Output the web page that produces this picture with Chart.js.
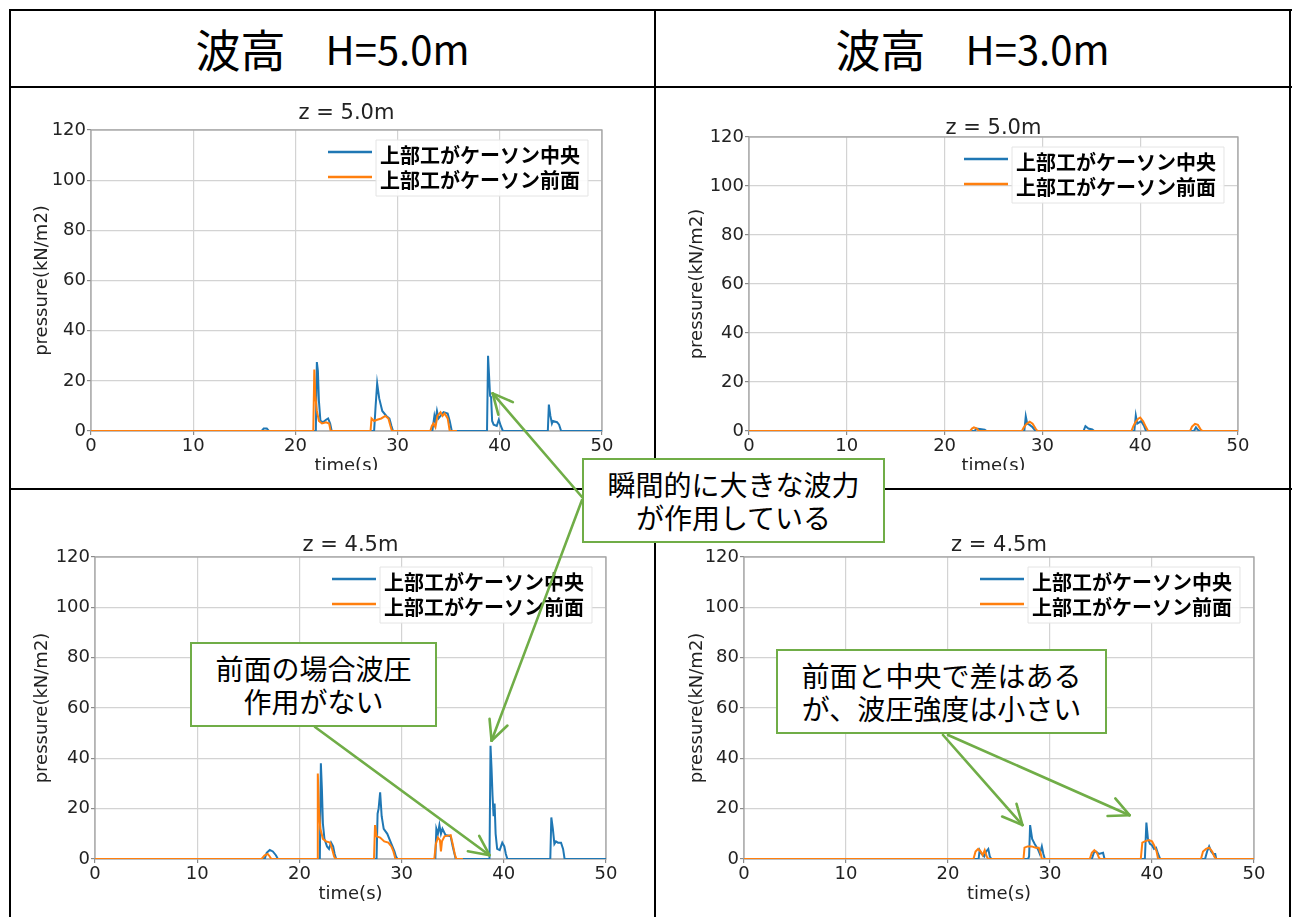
<!DOCTYPE html>
<html lang="ja">
<head>
<meta charset="utf-8">
<title>上部工位置による波圧の比較</title>
<script src="https://cdn.jsdelivr.net/npm/chart.js@4.4.1/dist/chart.umd.min.js"></script>
<style>
  html, body { margin: 0; padding: 0; background: #fff; }
  #sheet {
    position: relative; width: 1292px; height: 917px; overflow: hidden; background: #fff;
    font-family: "Noto Sans CJK JP", "Noto Sans", sans-serif; color: #000;
  }
  .rule { position: absolute; background: #000; }
  .head {
    position: absolute; top: 10px; height: 76px; display: flex; align-items: center;
    justify-content: center; font-size: 40px; white-space: nowrap;
  }
  .head .kanji { font-size: 45px; }
  .panel { position: absolute; overflow: hidden; z-index: 1; }
  .panel canvas { display: block; }
  #arrows { position: absolute; left: 0; top: 0; z-index: 2; pointer-events: none; }
  .note {
    position: absolute; box-sizing: border-box; border: 2.5px solid #70ad47; background: #fff;
    display: flex; flex-direction: column; justify-content: center; align-items: center;
    font-size: 28px; line-height: 33px; white-space: nowrap; z-index: 3;
  }
</style>
</head>
<body>
<div id="sheet">
  <div class="rule" style="left:9px;top:9px;width:1283px;height:2px"></div>
  <div class="rule" style="left:9px;top:86px;width:1283px;height:2px"></div>
  <div class="rule" style="left:9px;top:488px;width:1283px;height:2px"></div>
  <div class="rule" style="left:9px;top:9px;width:2px;height:908px"></div>
  <div class="rule" style="left:654px;top:9px;width:2px;height:908px"></div>
  <div class="rule" style="left:1289px;top:9px;width:2px;height:908px"></div>
  <div class="head" id="head0" style="left:11px;width:643px"></div>
  <div class="head" id="head1" style="left:656px;width:633px"></div>
  <svg id="arrows" width="1292" height="917"></svg>
</div>

<script>
// ---- labels ----
const columnTitles = [['波高', '\u3000H=5.0m'], ['波高', '\u3000H=3.0m']];
const depthTitles = ['z = 5.0m', 'z = 4.5m'];
const seriesNames = ['上部工がケーソン中央', '上部工がケーソン前面'];
const timeTicks = [0, 10, 20, 30, 40, 50];
const pressureTicks = [0, 20, 40, 60, 80, 100, 120];

// ---- pressure time histories: [time (s), pressure (kN/m2)] ----
// H = 5.0 m, z = 5.0 m
const h50z50Center = [
  [0,0],[16.7,0],[16.9,1],[17.2,1],[17.4,0],
  [22.0,0],[22.1,27.5],[22.2,24],[22.3,12],[22.45,4],[22.7,3.5],[23.0,4.5],[23.2,5],[23.4,3],[23.55,0],
  [27.7,0],[27.85,10],[28.0,19],[28.2,13],[28.5,8],[28.9,6],[29.2,5],[29.4,2],[29.55,0],
  [33.4,0],[33.6,6],[33.7,4],[33.85,8],[34.0,5],[34.2,6],[34.5,7.5],[34.9,7],[35.1,4],[35.3,0],
  [38.75,0],[38.85,30],[38.95,22],[39.05,14],[39.15,13.5],[39.25,4],[39.4,2.5],[39.7,2],[39.9,4.5],[40.1,2],[40.3,0],
  [44.7,0],[44.8,10.5],[44.95,6],[45.1,3],[45.2,4],[45.6,3.5],[45.8,2.5],[46.0,0],
  [50,0]
];
const h50z50Front = [
  [0,0],[21.75,0],[21.85,24.5],[21.95,14],[22.1,8],[22.3,4],[22.6,3],[23.0,3.5],[23.3,3],[23.45,0],
  [27.35,0],[27.45,5],[27.7,4],[28.0,4.5],[28.4,5],[28.8,6],[29.1,5],[29.3,2],[29.45,0],
  [33.2,0],[33.35,2],[33.5,3],[33.7,1.5],[33.9,6],[34.2,7.5],[34.4,6],[34.6,7],[34.9,5],[35.1,0],
  [35.8,0]
];
// H = 3.0 m, z = 5.0 m
const h30z50Center = [
  [0,0],[23.1,0],[23.2,1],[23.6,0.8],[24.1,0.5],[24.3,0],
  [28.15,0],[28.3,6],[28.45,3],[28.7,2.5],[29.0,1.5],[29.3,0],
  [34.2,0],[34.4,2],[34.7,1],[35.1,0.6],[35.3,0],
  [39.4,0],[39.55,6.3],[39.7,3],[39.9,3.5],[40.1,4],[40.4,2],[40.6,0],
  [45.5,0],[45.7,1.5],[45.9,0.5],[46.1,0],
  [50,0]
];
const h30z50Front = [
  [0,0],[22.6,0],[22.8,1],[23.0,1.5],[23.3,1],[23.5,0],
  [27.9,0],[28.1,1.5],[28.4,3],[28.7,3.8],[29.0,3],[29.3,1],[29.5,0],
  [39.1,0],[39.3,2],[39.5,3.5],[39.8,5],[40.0,5.5],[40.3,4],[40.6,1.5],[40.8,0],
  [45.1,0],[45.3,1.8],[45.6,2.9],[45.9,2.5],[46.2,0.5],[46.4,0],
  [50,0]
];
// H = 5.0 m, z = 4.5 m
const h50z45Center = [
  [0,0],[16.6,0],[16.8,2.5],[17.1,3.6],[17.4,3],[17.7,1.5],[17.9,0],
  [22.0,0],[22.1,38],[22.2,28],[22.3,14],[22.45,8],[22.7,5],[22.9,4],[23.1,6.5],[23.3,5],[23.45,2],[23.6,0],
  [27.55,0],[27.65,18],[27.75,20],[27.9,26.5],[28.05,17],[28.25,12],[28.6,10],[29.0,6],[29.3,3],[29.45,1],[29.6,0],
  [33.3,0],[33.4,12],[33.55,10],[33.7,13.5],[33.85,10],[34.0,12],[34.3,9.5],[34.8,9],[35.0,5],[35.3,0],
  [38.6,0],[38.7,45],[38.8,36],[38.9,25],[39.0,17],[39.1,22],[39.2,10],[39.35,4],[39.6,3.5],[39.85,6.5],[40.05,5],[40.2,2],[40.35,0],
  [44.55,0],[44.65,16.5],[44.8,12],[44.95,6],[45.1,7],[45.3,6.5],[45.6,6.5],[45.8,4],[45.95,0],
  [50,0]
];
const h50z45Front = [
  [0,0],[16.3,0],[16.6,1.5],[16.9,2],[17.1,1],[17.25,0],
  [21.75,0],[21.8,34],[21.9,20],[22.05,12],[22.3,8],[22.6,7],[23.0,6.5],[23.2,4],[23.4,1],[23.55,0],
  [27.3,0],[27.4,13.5],[27.55,9],[27.9,8.5],[28.3,7],[28.7,6.5],[29.0,5],[29.2,3],[29.4,0],
  [33.2,0],[33.35,6],[33.55,8.5],[33.75,7.5],[33.85,3],[33.95,7],[34.2,9],[34.8,9.5],[35.0,6],[35.2,2],[35.35,0],
  [36.0,0]
];
// H = 3.0 m, z = 4.5 m
const h30z45Center = [
  [0,0],[23.0,0],[23.1,3.5],[23.3,2],[23.55,1],[23.75,3],[23.95,4],[24.1,1],[24.25,0],
  [27.85,0],[27.95,1],[28.05,13.5],[28.25,8],[28.5,6],[28.8,4],[29.0,2],[29.2,5],[29.35,2],[29.5,0],
  [34.1,0],[34.3,2.5],[34.5,3],[34.8,2],[35.2,2.5],[35.35,0],
  [39.3,0],[39.45,14.5],[39.6,8],[39.8,6],[40.0,5.5],[40.2,4],[40.4,4.5],[40.6,2],[40.8,0],
  [45.2,0],[45.4,3],[45.6,5],[45.8,3],[46.0,2],[46.2,2],[46.3,0],
  [50,0]
];
const h30z45Front = [
  [0,0],[22.5,0],[22.7,3],[22.95,4],[23.2,3],[23.4,1.5],[23.6,3.5],[23.8,1],[23.95,0],
  [27.4,0],[27.5,4.5],[27.8,5],[28.2,5],[28.6,4.5],[28.9,4.5],[29.1,2],[29.2,0],
  [33.9,0],[34.1,2.5],[34.35,3.5],[34.6,2.5],[34.8,0.5],[34.9,0],
  [38.9,0],[39.05,6.5],[39.3,7],[39.7,7.5],[40.0,7],[40.2,5.5],[40.45,3],[40.6,0],
  [44.8,0],[45.0,3],[45.3,4],[45.6,4.5],[45.9,3],[46.1,1],[46.3,0],
  [50,0]
];

// ---- callouts: text lines, box [left, top, width, height], arrows [tail x, tail y, panel, t, p] ----
const calloutTexts = [
  ['瞬間的に大きな波力', 'が作用している'],
  ['前面の場合波圧', '作用がない'],
  ['前面と中央で差はある', 'が、波圧強度は小さい']
];
const calloutBoxes = [[582, 458, 303, 85], [190, 642, 247, 85], [776, 649, 331, 85]];
const calloutArrows = [
  [582, 497, 0, 39.3, 15],
  [582, 500, 2, 38.8, 47],
  [315, 727, 2, 38.6, 1.5],
  [943, 735, 3, 27.3, 13.5],
  [948, 735, 3, 37.8, 17.4]
];

const BLUE = '#1f77b4';
const ORANGE = '#ff7f0e';
const GREEN = '#70ad47';
const FONT = "'DejaVu Sans', sans-serif";
const CJK = "'Noto Sans CJK JP', 'Noto Sans', sans-serif";

// panel frame: wrapper [left, top, width, height], plot area [left, top, right, bottom]
const panels = [
  { box: [11, 89, 643, 381], area: [91, 130, 602, 431], titleY: 114, yTitleX: 42, title: depthTitles[0], center: h50z50Center, front: h50z50Front },
  { box: [657, 89, 632, 381], area: [749, 137, 1238, 431], titleY: 129, yTitleX: 697, title: depthTitles[0], center: h30z50Center, front: h30z50Front },
  { box: [11, 491, 643, 426], area: [95, 557, 606, 859], titleY: 546, yTitleX: 42, title: depthTitles[1], center: h50z45Center, front: h50z45Front },
  { box: [657, 491, 632, 426], area: [744, 557, 1254, 859], titleY: 546, yTitleX: 697, title: depthTitles[1], center: h30z45Center, front: h30z45Front }
];

// column headings
columnTitles.forEach(([kanji, rest], i) => {
  const head = document.getElementById('head' + i);
  const k = document.createElement('span');
  k.className = 'kanji';
  k.textContent = kanji;
  const r = document.createElement('span');
  r.textContent = rest;
  head.append(k, r);
});

// grey frame around the plot area, under the traces
const plotFrame = {
  id: 'plotFrame',
  beforeDatasetsDraw(chart) {
    const { ctx, chartArea: a } = chart;
    ctx.save();
    ctx.strokeStyle = '#a3a3a3';
    ctx.lineWidth = 1.3;
    ctx.strokeRect(a.left, a.top, a.right - a.left, a.bottom - a.top);
    ctx.restore();
  }
};

// legend placed inside the upper-right corner of the plot
const insetLegend = {
  id: 'insetLegend',
  afterDatasetsDraw(chart) {
    const { ctx, chartArea: a } = chart;
    const rows = [a.top + 25, a.top + 50];
    const textX = a.right - 222;
    ctx.save();
    ctx.font = `bold 20px ${CJK}`;
    const w = Math.max(...chart.data.datasets.map(d => ctx.measureText(d.label).width));
    ctx.fillStyle = 'rgba(255,255,255,0.9)';
    ctx.strokeStyle = '#e4e4e4';
    ctx.lineWidth = 1;
    ctx.beginPath();
    ctx.rect(textX - 4, a.top + 10, w + 12, 56);
    ctx.fill();
    ctx.stroke();
    chart.data.datasets.forEach((ds, i) => {
      ctx.strokeStyle = ds.borderColor;
      ctx.lineWidth = 2.4;
      ctx.beginPath();
      ctx.moveTo(a.right - 274, rows[i] - 3);
      ctx.lineTo(a.right - 230, rows[i] - 3);
      ctx.stroke();
      ctx.fillStyle = '#000';
      ctx.textBaseline = 'middle';
      ctx.textAlign = 'left';
      ctx.fillText(ds.label, textX, rows[i]);
    });
    ctx.restore();
  }
};

const toPoints = pairs => pairs.map(([t, p]) => ({ x: t, y: p }));

const X_AXIS_H = 45;
const TITLE_LH = 21;
const AXIS_TITLE_LH = 18;

function buildPanel(p) {
  const [wl, wt, ww, wh] = p.box;
  const [al, at, ar, ab] = p.area;
  const canvasH = wh + 26;

  const wrap = document.createElement('div');
  wrap.className = 'panel';
  Object.assign(wrap.style, { left: wl + 'px', top: wt + 'px', width: ww + 'px', height: wh + 'px' });
  const canvas = document.createElement('canvas');
  canvas.width = ww;
  canvas.height = canvasH;
  wrap.appendChild(canvas);
  document.getElementById('sheet').appendChild(wrap);

  const padTop = p.titleY - wt - TITLE_LH / 2;
  const titleBottom = at - p.titleY - TITLE_LH / 2;
  const padRight = ww - (ar - wl);
  const padBottom = canvasH - X_AXIS_H - (ab - wt);
  const yAxisW = al - wl;

  const gridStyle = { color: '#d3d3d3', lineWidth: 1.2, tickLength: 4, tickColor: '#8a8a8a', drawTicks: true };
  const tickFont = { family: FONT, size: 18 };

  const chart = new Chart(canvas, {
    type: 'line',
    data: {
      datasets: [
        { label: seriesNames[0], data: toPoints(p.center), borderColor: BLUE, order: 1 },
        { label: seriesNames[1], data: toPoints(p.front), borderColor: ORANGE, order: 0 }
      ]
    },
    options: {
      responsive: false,
      animation: false,
      devicePixelRatio: 1,
      elements: {
        line: { borderWidth: 2, tension: 0, fill: false },
        point: { radius: 0, hoverRadius: 0 }
      },
      layout: { padding: { left: 0, top: padTop, right: padRight, bottom: padBottom } },
      plugins: {
        legend: { display: false },
        tooltip: { enabled: false },
        title: {
          display: true, text: p.title, fullSize: false, color: '#222',
          font: { family: FONT, size: 21, weight: 'normal', lineHeight: 1 },
          padding: { top: 0, bottom: titleBottom }
        }
      },
      scales: {
        x: {
          type: 'linear', min: 0, max: 50,
          afterBuildTicks: s => { s.ticks = timeTicks.map(v => ({ value: v })); },
          afterFit: s => { s.height = X_AXIS_H; },
          grid: gridStyle,
          border: { display: false },
          ticks: { font: tickFont, color: '#222', padding: 1, maxRotation: 0 },
          title: {
            display: true, text: 'time(s)', color: '#222',
            font: { family: FONT, size: 18, lineHeight: 1 },
            padding: { top: 0, bottom: 1 }
          }
        },
        y: {
          type: 'linear', min: 0, max: 120,
          afterBuildTicks: s => { s.ticks = pressureTicks.map(v => ({ value: v })); },
          afterFit: s => { s.width = yAxisW; },
          grid: gridStyle,
          border: { display: false },
          ticks: { font: tickFont, color: '#222', padding: 1 },
          title: {
            display: true, text: 'pressure(kN/m2)', color: '#222',
            font: { family: FONT, size: 18, lineHeight: 1 },
            padding: { top: p.yTitleX - wl - AXIS_TITLE_LH / 2, bottom: 0 }
          }
        }
      }
    },
    plugins: [plotFrame, insetLegend]
  });
  return { chart, wl, wt };
}

const built = panels.map(buildPanel);

// callout boxes
calloutTexts.forEach((lines, i) => {
  const [l, t, w, h] = calloutBoxes[i];
  const div = document.createElement('div');
  div.className = 'note';
  Object.assign(div.style, { left: l + 'px', top: t + 'px', width: w + 'px', height: h + 'px' });
  lines.forEach(line => {
    const s = document.createElement('span');
    s.textContent = line;
    div.appendChild(s);
  });
  document.getElementById('sheet').appendChild(div);
});

// arrows from the callouts to the pressure peaks, located through the chart scales
const svg = document.getElementById('arrows');
const NS = 'http://www.w3.org/2000/svg';
function seg(x1, y1, x2, y2) {
  const l = document.createElementNS(NS, 'line');
  l.setAttribute('x1', x1); l.setAttribute('y1', y1);
  l.setAttribute('x2', x2); l.setAttribute('y2', y2);
  l.setAttribute('stroke', GREEN);
  l.setAttribute('stroke-width', 2.6);
  l.setAttribute('stroke-linecap', 'round');
  svg.appendChild(l);
}
calloutArrows.forEach(([tx, ty, pi, t, pr]) => {
  const { chart, wl, wt } = built[pi];
  const hx = chart.scales.x.getPixelForValue(t) + wl;
  const hy = chart.scales.y.getPixelForValue(pr) + wt;
  seg(tx, ty, hx, hy);
  const ang = Math.atan2(ty - hy, tx - hx);
  const len = 22, spread = 0.45;
  seg(hx, hy, hx + len * Math.cos(ang + spread), hy + len * Math.sin(ang + spread));
  seg(hx, hy, hx + len * Math.cos(ang - spread), hy + len * Math.sin(ang - spread));
});
</script>
</body>
</html>
